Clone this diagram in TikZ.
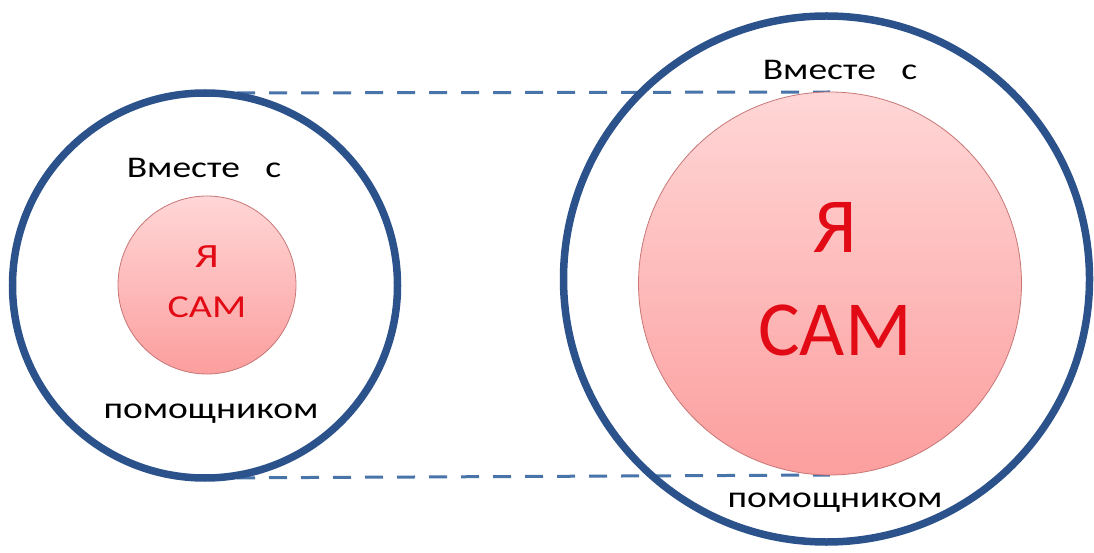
\documentclass[tikz,border=0pt]{standalone}
\usepackage{fontspec}
\setmainfont{Carlito}
\newfontfamily\widefont[FakeStretch=1.25]{Carlito}
\usetikzlibrary{backgrounds}
\definecolor{ringblue}{RGB}{44,82,140}
\definecolor{dashblue}{RGB}{72,116,170}
\definecolor{pinktop}{RGB}{255,214,214}
\definecolor{pinkbot}{RGB}{252,158,158}
\definecolor{pinkline}{RGB}{200,118,118}
\definecolor{samred}{RGB}{226,10,20}
\begin{document}
\begin{tikzpicture}[x=1pt, y=1pt,
  ring/.style={circle, draw=ringblue, line width=7.5pt, inner sep=0pt, outer sep=0pt, minimum size=#1},
  core/.style={circle, draw=pinkline, line width=0.8pt, top color=pinktop, bottom color=pinkbot, inner sep=0pt, outer sep=0pt, minimum size=#1},
  guide/.style={draw=dashblue, line width=3pt, dash pattern=on 18pt off 14pt},
  word/.style={anchor=base, inner sep=0pt, font=\widefont\fontsize{30}{36}\selectfont},
  me/.style={anchor=base, inner sep=0pt, text=samred, font=\widefont\fontsize{#1}{#1}\selectfont},
  bigme/.style={anchor=base, inner sep=0pt, text=samred, font=\fontsize{78}{78}\selectfont}]
\useasboundingbox (0,0) rectangle (1094,552);
\node[ring=385] (L_out) at (205,266.5) {};
\node[core=178] (L_in) at (207,267) {};
\node[ring=526] (R_out) at (826.5,273) {};
\node[core=383] (R_in) at (830,268.5) {};
\node[word] (L_top) at (204,374) {Вместе\ \ \ с};
\node[word] (L_bot) at (211,134) {помощником};
\node[me=34] (L_ya) at (207,284) {Я};
\node[me=32] (L_sam) at (207,235) {САМ};
\node[word] (R_top) at (840,472) {Вместе\ \ \ с};
\node[word] (R_bot) at (835,45) {помощником};
\node[bigme] (R_ya) at (835,299) {Я};
\node[bigme] (R_sam) at (835,197) {САМ};
\begin{scope}[on background layer]
\draw[guide] (L_out.north) -- (R_in.north);
\draw[guide] (L_out.south) -- (R_in.south);
\end{scope}
\end{tikzpicture}
\end{document}
